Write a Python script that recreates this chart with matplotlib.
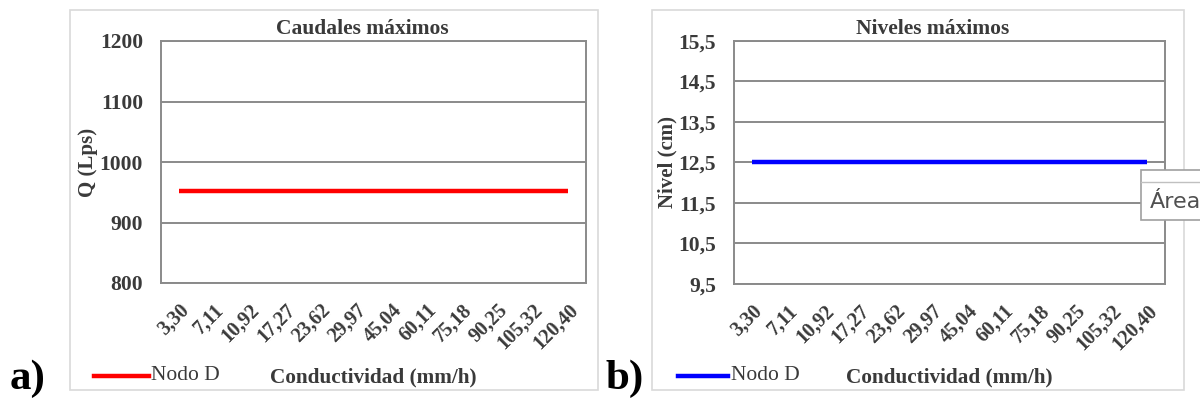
import matplotlib
matplotlib.use('Agg')
import matplotlib.pyplot as plt
from matplotlib.patches import Rectangle
from matplotlib.lines import Line2D

# data
conductividad = ['3,30', '7,11', '10,92', '17,27', '23,62', '29,97',
                 '45,04', '60,11', '75,18', '90,25', '105,32', '120,40']
caudal_nodo_d = [952, 952, 952, 952, 952, 952, 952, 952, 952, 952, 952, 952]
nivel_nodo_d = [12.5, 12.5, 12.5, 12.5, 12.5, 12.5, 12.5, 12.5, 12.5, 12.5, 12.5, 12.5]
q_ticks = [800, 900, 1000, 1100, 1200]
nivel_ticks = [9.5, 10.5, 11.5, 12.5, 13.5, 14.5, 15.5]

plt.rcParams['font.family'] = ['Liberation Serif', 'DejaVu Serif']
W, H = 1200, 400
fig = plt.figure(figsize=(12, 4), dpi=100)
txt = '#3a3a3a'
grid = '#8a8a8a'


def px_axes(x0, x1, y0, y1):
    return fig.add_axes([x0 / W, 1 - y1 / H, (x1 - x0) / W, (y1 - y0) / H])


def panel(ax, y, ticks, labels, color, ylabel, ylab_x):
    x = range(len(conductividad))
    ax.plot(x, y, color=color, lw=3.2, solid_capstyle='butt')
    ax.set_xlim(-0.5, len(conductividad) - 0.5)
    ax.set_ylim(ticks[0], ticks[-1])
    ax.set_yticks(ticks)
    ax.set_yticklabels(labels, fontsize=15.5, fontweight='bold', color=txt)
    ax.set_xticks(list(x))
    ax.set_xticklabels(conductividad, rotation=45, ha='right', va='top',
                       rotation_mode='anchor', fontsize=14.5, fontweight='bold', color=txt)
    ax.tick_params(length=0, pad=13)
    ax.tick_params(axis='x', pad=12)
    ax.yaxis.grid(True, color=grid, lw=1.4)
    ax.set_axisbelow(True)
    for s in ax.spines.values():
        s.set_color(grid)
        s.set_linewidth(1.4)
    ax.set_ylabel(ylabel, fontsize=15, fontweight='bold', color=txt)
    ax.yaxis.set_label_coords(ylab_x, 0.5)


# outer chart frames
fig.patches.append(Rectangle((70 / W, 1 - 390 / H), 528 / W, 380 / H, transform=fig.transFigure,
                             fill=False, ec='#d9d9d9', lw=1.2))
fig.patches.append(Rectangle((652 / W, 1 - 390 / H), 532 / W, 380 / H, transform=fig.transFigure,
                             fill=False, ec='#d9d9d9', lw=1.2))

ax1 = px_axes(161, 586, 41, 283)
panel(ax1, caudal_nodo_d, q_ticks, [str(t) for t in q_ticks], '#ff0000', 'Q (Lps)', -0.148)
ax2 = px_axes(734, 1165, 41, 284)
panel(ax2, nivel_nodo_d, nivel_ticks, [('%.1f' % t).replace('.', ',') for t in nivel_ticks],
      '#0000ff', 'Nivel (cm)', -0.13)

fig.text(362 / W, 1 - 29 / H, 'Caudales máximos', ha='center', va='center',
         fontsize=15.5, fontweight='bold', color=txt)
fig.text(933 / W, 1 - 29 / H, 'Niveles máximos', ha='center', va='center',
         fontsize=15.5, fontweight='bold', color=txt)

# bottom legend + x title
for (lx0, lx1, col, nx, cx) in [(94, 149, '#ff0000', 151, 270), (678, 728, '#0000ff', 731, 846)]:
    fig.add_artist(Line2D([lx0 / W, lx1 / W], [1 - 376 / H] * 2, transform=fig.transFigure,
                          color=col, lw=3.2))
    fig.text(nx / W, 1 - 375 / H, 'Nodo D', ha='left', va='center', fontsize=15.5, color=txt)
    fig.text(cx / W, 1 - 377 / H, 'Conductividad (mm/h)', ha='left', va='center',
             fontsize=15.3, fontweight='bold', color=txt)

fig.text(10 / W, 1 - 379 / H, 'a)', ha='left', va='center', fontsize=31, fontweight='bold', color='black')
fig.text(606 / W, 1 - 379 / H, 'b)', ha='left', va='center', fontsize=31, fontweight='bold', color='black')

# tooltip overlay from the screenshot
fig.patches.append(Rectangle((1141 / W, 1 - 220 / H), 80 / W, 50 / H, transform=fig.transFigure,
                             fc='white', ec='#a0a0a0', lw=1.2, zorder=5))
fig.add_artist(Line2D([1141 / W, 1.0], [1 - 182 / H] * 2, transform=fig.transFigure,
                      color='#c0c0c0', lw=1.0, zorder=6))
fig.text(1150 / W, 1 - 202 / H, 'Área', ha='left', va='center', fontsize=16,
         family='DejaVu Sans', color='#505050', zorder=6)

fig.savefig('out.png', dpi=100)
